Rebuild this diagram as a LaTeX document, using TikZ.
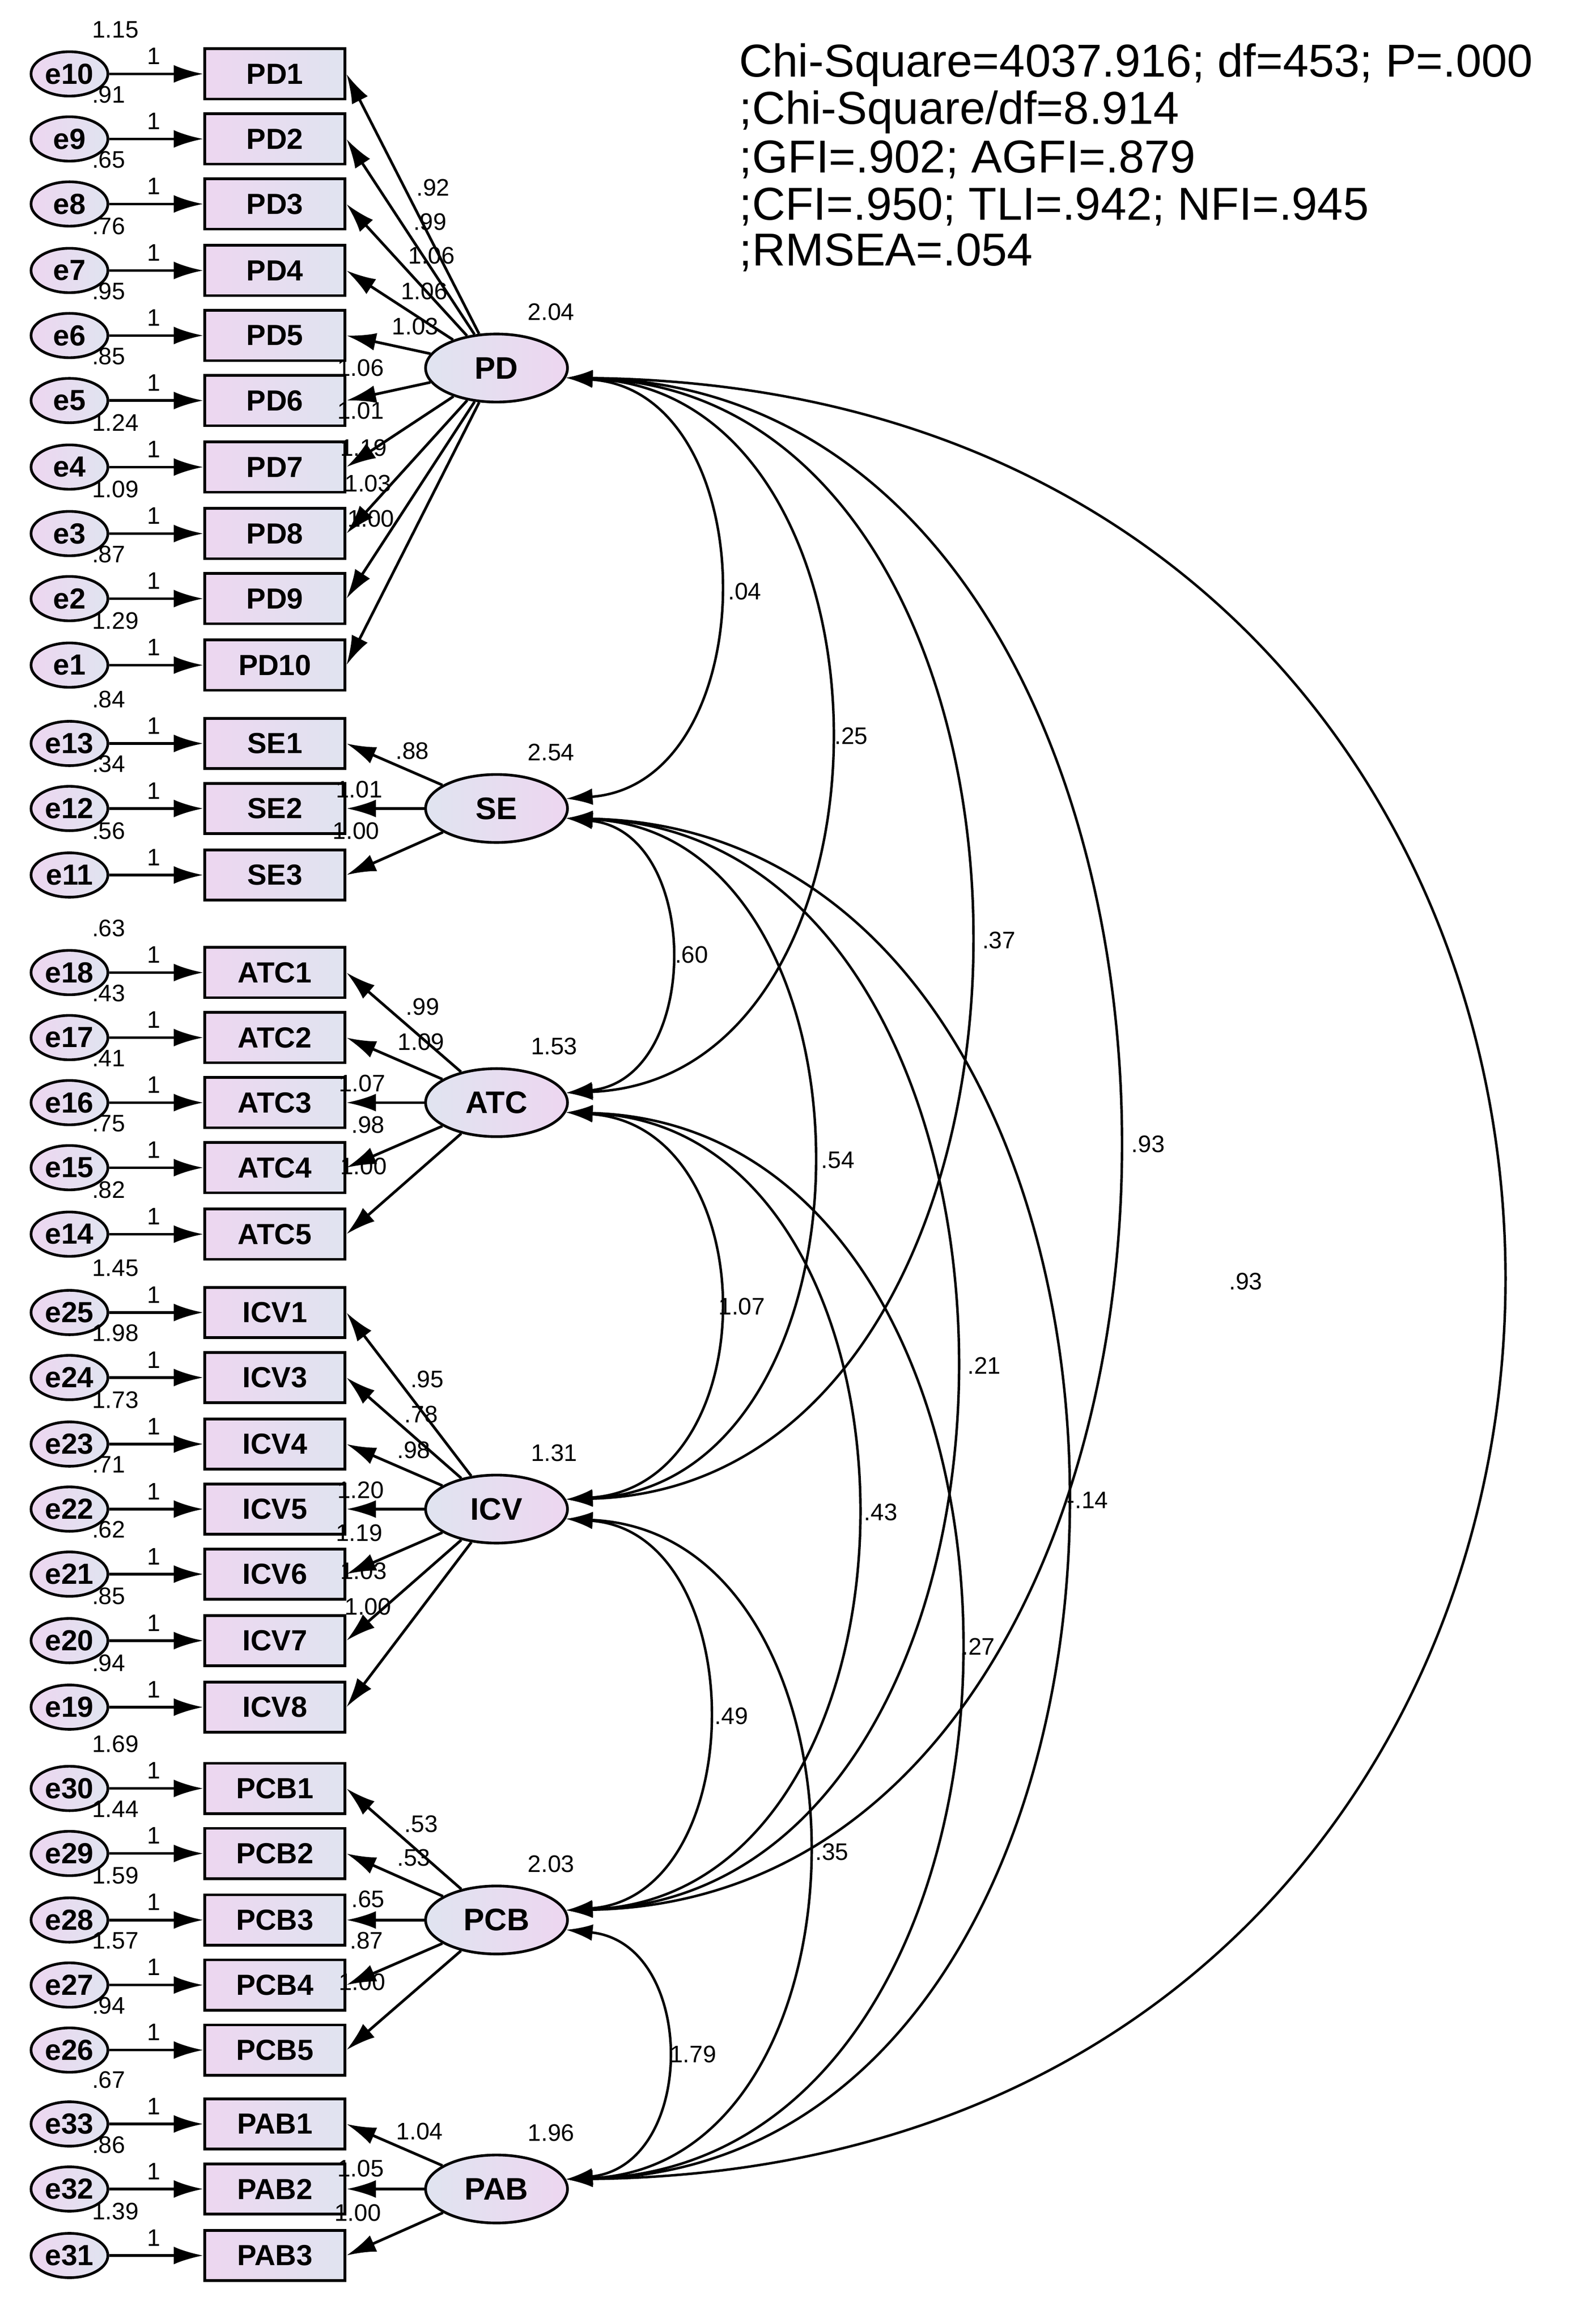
\documentclass[tikz,border=0pt]{standalone}
\usepackage{fontspec}
\setmainfont{Liberation Sans}
\usetikzlibrary{shapes.geometric,arrows.meta}
\definecolor{pinkf}{HTML}{EDD6F0}
\definecolor{bluef}{HTML}{E0E4F0}
\tikzset{
 obs/.style={draw,line width=1.3pt,left color=pinkf,right color=bluef,minimum width=2.375cm,minimum height=0.85cm,inner sep=0pt,font=\fontsize{14}{16}\selectfont\bfseries},
 err/.style={draw,line width=1.3pt,ellipse,left color=pinkf,right color=bluef,minimum width=1.3cm,minimum height=0.75cm,inner sep=0pt,font=\fontsize{14}{16}\selectfont\bfseries},
 lat/.style={draw,line width=1.3pt,ellipse,left color=bluef,right color=pinkf,minimum width=2.4cm,minimum height=1.15cm,inner sep=0pt,font=\fontsize{15}{17}\selectfont\bfseries},
 sm/.style={font=\fontsize{11.5}{13}\selectfont,inner sep=0pt},
 arr/.style={line width=1.3pt,-{Latex[length=0.5cm,width=0.3cm]}},
 cov/.style={line width=1.2pt,{Latex[length=0.45cm,width=0.28cm]}-{Latex[length=0.45cm,width=0.28cm]}},
 stat/.style={font=\fontsize{22.2}{25}\selectfont,anchor=west,inner sep=0pt}
}
\newcommand{\Ind}[8]{%
 \node[obs] (#1) at (186,#3) {#2};
 \node[err] (e#1) at (47,#3) {#4};
 \draw[arr] (e#1) -- (#1);
 \node[sm,anchor=west] at (62,#3-30) {#5};
 \node[sm] at (104,#3-12) {1};
 \draw[arr] (#6) -- (#1.east);
 \node[sm] at (#8) {#7};}
\begin{document}
\begin{tikzpicture}[x=0.025cm,y=-0.025cm]
\useasboundingbox (0,0) rectangle (1080,1571);
\node[lat] (PD) at (336,249) {PD};
\node[lat] (SE) at (336,547) {SE};
\node[lat] (ATC) at (336,746) {ATC};
\node[lat] (ICV) at (336,1021) {ICV};
\node[lat] (PCB) at (336,1299) {PCB};
\node[lat] (PAB) at (336,1481) {PAB};
\node[sm] at (373,211) {2.04};
\node[sm] at (373,509) {2.54};
\node[sm] at (375,708) {1.53};
\node[sm] at (375,983) {1.31};
\node[sm] at (373,1261) {2.03};
\node[sm] at (373,1443) {1.96};
\Ind{PD1}{PD1}{50}{e10}{1.15}{PD}{.92}{293,127}
\Ind{PD2}{PD2}{94}{e9}{.91}{PD}{.99}{291,150}
\Ind{PD3}{PD3}{138}{e8}{.65}{PD}{1.06}{292,173}
\Ind{PD4}{PD4}{183}{e7}{.76}{PD}{1.06}{287,197}
\Ind{PD5}{PD5}{227}{e6}{.95}{PD}{1.03}{281,221}
\Ind{PD6}{PD6}{271}{e5}{.85}{PD}{1.06}{244,249}
\Ind{PD7}{PD7}{316}{e4}{1.24}{PD}{1.01}{244,278}
\Ind{PD8}{PD8}{361}{e3}{1.09}{PD}{1.19}{246,303}
\Ind{PD9}{PD9}{405}{e2}{.87}{PD}{1.03}{249,327}
\Ind{PD10}{PD10}{450}{e1}{1.29}{PD}{1.00}{251,351}
\Ind{SE1}{SE1}{503}{e13}{.84}{SE}{.88}{279,508}
\Ind{SE2}{SE2}{547}{e12}{.34}{SE}{1.01}{243,534}
\Ind{SE3}{SE3}{592}{e11}{.56}{SE}{1.00}{241,562}
\Ind{ATC1}{ATC1}{658}{e18}{.63}{ATC}{.99}{286,681}
\Ind{ATC2}{ATC2}{702}{e17}{.43}{ATC}{1.09}{285,705}
\Ind{ATC3}{ATC3}{746}{e16}{.41}{ATC}{1.07}{245,733}
\Ind{ATC4}{ATC4}{790}{e15}{.75}{ATC}{.98}{249,761}
\Ind{ATC5}{ATC5}{835}{e14}{.82}{ATC}{1.00}{246,789}
\Ind{ICV1}{ICV1}{888}{e25}{1.45}{ICV}{.95}{289,933}
\Ind{ICV3}{ICV3}{932}{e24}{1.98}{ICV}{.78}{285,957}
\Ind{ICV4}{ICV4}{977}{e23}{1.73}{ICV}{.98}{280,981}
\Ind{ICV5}{ICV5}{1021}{e22}{.71}{ICV}{1.20}{244,1008}
\Ind{ICV6}{ICV6}{1065}{e21}{.62}{ICV}{1.19}{243,1037}
\Ind{ICV7}{ICV7}{1110}{e20}{.85}{ICV}{1.03}{246,1063}
\Ind{ICV8}{ICV8}{1155}{e19}{.94}{ICV}{1.00}{249,1087}
\Ind{PCB1}{PCB1}{1210}{e30}{1.69}{PCB}{.53}{285,1234}
\Ind{PCB2}{PCB2}{1254}{e29}{1.44}{PCB}{.53}{280,1257}
\Ind{PCB3}{PCB3}{1299}{e28}{1.59}{PCB}{.65}{249,1285}
\Ind{PCB4}{PCB4}{1343}{e27}{1.57}{PCB}{.87}{248,1313}
\Ind{PCB5}{PCB5}{1387}{e26}{.94}{PCB}{1.00}{245,1341}
\Ind{PAB1}{PAB1}{1437}{e33}{.67}{PAB}{1.04}{284,1442}
\Ind{PAB2}{PAB2}{1481}{e32}{.86}{PAB}{1.05}{244,1467}
\Ind{PAB3}{PAB3}{1526}{e31}{1.39}{PAB}{1.00}{242,1497}
% covariances
\draw[cov] (PD.-8) .. controls (519,265) and (519,530) .. (SE.8);
\draw[cov] (PD.-8) .. controls (619,265) and (619,730) .. (ATC.8);
\draw[cov] (PD.-8) .. controls (745,265) and (745,1005) .. (ICV.8);
\draw[cov] (PD.-8) .. controls (879,265) and (879,1283) .. (PCB.8);
\draw[cov] (PD.-8) .. controls (1225,265) and (1225,1465) .. (PAB.8);
\draw[cov] (SE.-8) .. controls (475,563) and (475,730) .. (ATC.8);
\draw[cov] (SE.-8) .. controls (603,563) and (603,1005) .. (ICV.8);
\draw[cov] (SE.-8) .. controls (732,563) and (732,1283) .. (PCB.8);
\draw[cov] (SE.-8) .. controls (832,563) and (832,1465) .. (PAB.8);
\draw[cov] (ATC.-8) .. controls (519,762) and (519,1005) .. (ICV.8);
\draw[cov] (ATC.-8) .. controls (643,762) and (643,1283) .. (PCB.8);
\draw[cov] (ATC.-8) .. controls (736,762) and (736,1465) .. (PAB.8);
\draw[cov] (ICV.-8) .. controls (509,1037) and (509,1283) .. (PCB.8);
\draw[cov] (ICV.-8) .. controls (599,1037) and (599,1465) .. (PAB.8);
\draw[cov] (PCB.-8) .. controls (472,1315) and (472,1465) .. (PAB.8);
\node[sm] at (504,400) {.04};
\node[sm] at (576,498) {.25};
\node[sm] at (676,636) {.37};
\node[sm] at (777,774) {.93};
\node[sm] at (843,867) {.93};
\node[sm] at (468,646) {.60};
\node[sm] at (567,785) {.54};
\node[sm] at (666,924) {.21};
\node[sm] at (736,1015) {-.14};
\node[sm] at (502,884) {1.07};
\node[sm] at (596,1023) {.43};
\node[sm] at (662,1114) {.27};
\node[sm] at (495,1161) {.49};
\node[sm] at (563,1253) {.35};
\node[sm] at (469,1390) {1.79};
\node[stat] at (500,44) {Chi-Square=4037.916; df=453; P=.000};
\node[stat] at (500,76) {;Chi-Square/df=8.914};
\node[stat] at (500,108) {;GFI=.902; AGFI=.879};
\node[stat] at (500,140) {;CFI=.950; TLI=.942; NFI=.945};
\node[stat] at (500,171) {;RMSEA=.054};
\end{tikzpicture}
\end{document}
